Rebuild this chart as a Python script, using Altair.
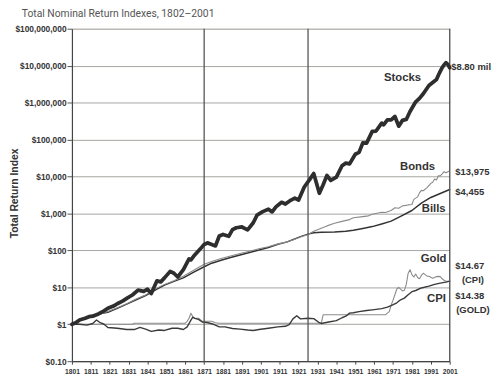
import altair as alt
import pandas as pd

# ---------------- data ----------------
stock_years = [1801, 1803, 1805, 1808, 1810, 1812, 1815, 1818, 1820, 1823, 1825, 1828, 1830, 1833,
               1836, 1839, 1841, 1843, 1846, 1848, 1850, 1853, 1855, 1857, 1860, 1863, 1864, 1866,
               1869, 1871, 1873, 1874, 1877, 1879, 1881, 1884, 1886, 1888, 1891, 1894, 1897, 1899,
               1902, 1905, 1907, 1909, 1912, 1914, 1917, 1919, 1921, 1924, 1927, 1929, 1932, 1934,
               1936, 1938, 1941, 1944, 1946, 1948, 1951, 1953, 1955, 1957, 1960, 1962, 1965, 1966,
               1968, 1970, 1972, 1974, 1976, 1978, 1980, 1983, 1985, 1987, 1990, 1992, 1994, 1995,
               1996, 1997, 1998, 1999, 2000, 2001]
stock_values = [1.0, 1.1, 1.3, 1.45, 1.6, 1.65, 1.9, 2.3, 2.7, 3.1, 3.6, 4.3, 5.0, 6.2,
                8.4, 7.8, 8.9, 6.8, 15, 14, 18, 27, 24, 19, 30, 59, 55, 75,
                110, 145, 160, 150, 132, 245, 270, 240, 363, 410, 430, 360, 560, 900,
                1120, 1300, 1100, 1500, 2000, 1800, 2300, 2600, 2300, 5200, 8500, 12000, 3500, 6000,
                10700, 7800, 9600, 19500, 23000, 22000, 40000, 45000, 81000, 80000, 166000, 170000, 278000, 250000,
                340000, 340000, 420000, 230000, 330000, 350000, 575000, 1050000, 1300000, 1740000, 2900000, 3500000, 4200000, 5500000,
                7000000, 8800000, 10500000, 12000000, 10800000, 8800000]

bond_years = [1801, 1805, 1810, 1815, 1820, 1825, 1830, 1835, 1840, 1846, 1850, 1855, 1860, 1865,
              1871, 1875, 1880, 1885, 1890, 1895, 1900, 1905, 1910, 1915, 1918, 1922, 1926, 1929,
              1932, 1936, 1940, 1944, 1948, 1950, 1955, 1958, 1960, 1965, 1967, 1970, 1972, 1974,
              1976, 1979, 1981, 1982, 1984, 1985, 1986, 1987, 1989, 1991, 1992, 1993, 1994, 1995,
              1996, 1997, 1998, 1999, 2000, 2001]
bond_values = [1.0, 1.25, 1.55, 1.8, 2.2, 2.8, 3.6, 4.8, 6.2, 9.5, 12, 15, 20, 28,
               42, 50, 60, 70, 82, 95, 110, 125, 150, 170, 190, 230, 270, 330,
               380, 460, 540, 610, 680, 760, 820, 860, 950, 1080, 1060, 1200, 1420, 1380,
               1600, 1700, 1750, 2400, 2800, 3600, 4200, 4100, 5000, 6500, 7000, 8500, 8000, 10500,
               10400, 11800, 13500, 12600, 13400, 13975]

bill_years = [1801, 1805, 1810, 1815, 1820, 1825, 1830, 1835, 1840, 1846, 1850, 1855, 1860, 1865,
              1871, 1875, 1880, 1885, 1890, 1895, 1900, 1905, 1910, 1915, 1918, 1922, 1926, 1929,
              1933, 1940, 1946, 1950, 1955, 1960, 1965, 1970, 1975, 1981, 1986, 1991, 1996, 2001]
bill_values = [1.0, 1.3, 1.6, 1.9, 2.1, 2.7, 3.5, 4.6, 6.0, 9.0, 11.5, 14.5, 18, 25,
               36, 45, 54, 64, 75, 88, 102, 120, 145, 170, 195, 235, 275, 300,
               310, 315, 330, 350, 390, 440, 520, 620, 830, 1200, 1900, 2700, 3450, 4455]

gold_years = [1801, 1833, 1834, 1861, 1862, 1863, 1864, 1865, 1866, 1868, 1870, 1872, 1875, 1877,
              1879, 1933, 1934, 1967, 1968, 1969, 1970, 1971, 1973, 1974, 1976, 1977, 1978, 1979,
              1980, 1981, 1982, 1983, 1984, 1985, 1986, 1987, 1988, 1989, 1990, 1991, 1992, 1993,
              1994, 1995, 1996, 1997, 1998, 1999, 2000, 2001]
gold_values = [1.0, 1.0, 1.066, 1.066, 1.2, 1.45, 2.0, 1.6, 1.45, 1.45, 1.2, 1.2, 1.2, 1.1,
               1.066, 1.066, 1.8, 1.8, 2.0, 2.2, 3.3, 4.5, 9.0, 10, 8.0, 8.3, 12, 24,
               30, 22, 19, 23, 18.5, 17, 21, 24, 22, 20, 20, 18.7, 17.6, 18.5,
               19.5, 19.8, 19.5, 17, 15.5, 14.6, 14.5, 14.38]

cpi_years = [1801, 1805, 1809, 1812, 1814, 1816, 1818, 1820, 1825, 1830, 1834, 1837, 1840, 1843,
             1847, 1850, 1854, 1857, 1860, 1862, 1864, 1865, 1866, 1868, 1870, 1873, 1876, 1879,
             1882, 1886, 1890, 1894, 1897, 1900, 1905, 1910, 1914, 1916, 1918, 1920, 1922, 1926,
             1929, 1932, 1933, 1937, 1941, 1944, 1946, 1948, 1950, 1953, 1957, 1960, 1965, 1968,
             1970, 1973, 1975, 1977, 1979, 1981, 1983, 1986, 1990, 1993, 1996, 1999, 2001]
cpi_values = [1.0, 1.0, 0.95, 1.05, 1.3, 1.1, 1.0, 0.82, 0.78, 0.72, 0.72, 0.82, 0.74, 0.64,
              0.7, 0.68, 0.78, 0.78, 0.72, 0.85, 1.3, 1.55, 1.45, 1.35, 1.15, 1.1, 1.0, 0.85,
              0.85, 0.77, 0.74, 0.7, 0.68, 0.72, 0.78, 0.85, 0.88, 0.98, 1.4, 1.7, 1.4, 1.45,
              1.42, 1.1, 1.05, 1.15, 1.25, 1.5, 1.65, 2.0, 2.05, 2.2, 2.35, 2.45, 2.65, 2.9,
              3.2, 3.8, 4.6, 5.1, 6.3, 7.6, 8.2, 9.6, 10.8, 12.0, 13.0, 13.8, 14.67]

era_lines = [1871, 1926, 2001]
x_ticks = [1801, 1811, 1821, 1831, 1841, 1851, 1861, 1871, 1881, 1891, 1901, 1911, 1921,
           1931, 1941, 1951, 1961, 1971, 1981, 1991, 2001]
y_ticks = [0.1, 1, 10, 100, 1000, 10000, 100000, 1000000, 10000000, 100000000]

series_labels = ["Stocks", "Bonds", "Bills", "Gold", "CPI"]
series_label_years = [1976, 1984, 1992.5, 1992.5, 1994]
series_label_values = [4.6e6, 18400, 1300, 58, 4.7]

end_labels = ["$8.80 mil", "$13,975", "$4,455", "$14.67", "$14.38"]
end_label_years = [2001.8, 2004, 2004, 2004, 2004]
end_label_values = [8.9e6, 12800, 3750, 38, 5.7]

paren_labels = ["(CPI)", "(GOLD)"]
paren_label_years = [2013.3, 2013.3]
paren_label_values = [15.5, 2.4]

# ---------------- build tables ----------------
def frame(name, years, values):
    return pd.DataFrame({"year": years, "value": values, "series": name})

lines_df = pd.concat([
    frame("Stocks", stock_years, stock_values),
    frame("Bonds", bond_years, bond_values),
    frame("Bills", bill_years, bill_values),
    frame("Gold", gold_years, gold_values),
    frame("CPI", cpi_years, cpi_values),
], ignore_index=True)

FONT = "Liberation Sans"
INK = "#333333"

x_enc = alt.X("year:Q",
              scale=alt.Scale(domain=[1801, 2001], nice=False, zero=False),
              axis=alt.Axis(values=x_ticks, format="d", title=None, grid=False,
                            labelFont=FONT, labelFontSize=6.8, labelFontWeight="bold",
                            labelColor=INK, tickSize=3, tickColor="#444", domainColor="#444",
                            domainWidth=1.2, labelPadding=4, labelOverlap=False,
                            labelFlush=False, labelBound=False))
y_enc = alt.Y("value:Q",
              scale=alt.Scale(type="log", domain=[0.1, 1e8], nice=False),
              axis=alt.Axis(values=y_ticks, title="Total Return Index",
                            labelExpr="datum.value < 1 ? '$0.10' : '$' + format(datum.value, ',')",
                            labelFont=FONT, labelFontSize=8.5, labelFontWeight="bold",
                            labelColor=INK, tickSize=5, tickColor="#555", domainColor="#444",
                            domainWidth=1.2, labelPadding=1, grid=True, gridColor="#9c9a97",
                            gridWidth=0.9, titleFont=FONT, titleFontSize=10.5,
                            titleFontWeight="bold", titleColor=INK, titleX=-58, titleY=167,
                            titleAlign="center", titleBaseline="middle", titleAngle=-90,
                            labelOverlap=False))

base = alt.Chart(lines_df)

def series_line(name, color, width):
    return base.transform_filter(alt.datum.series == name).mark_line(
        color=color, strokeWidth=width, strokeJoin="round", strokeCap="round"
    ).encode(x=x_enc, y=y_enc)

rules = alt.Chart(pd.DataFrame({"year": era_lines})).mark_rule(
    color="#555555", strokeWidth=1.3).encode(x=x_enc)

lbl_df = pd.DataFrame({"text": series_labels, "year": series_label_years, "value": series_label_values})
end_df = pd.DataFrame({"text": end_labels, "year": end_label_years, "value": end_label_values})
par_df = pd.DataFrame({"text": paren_labels, "year": paren_label_years, "value": paren_label_values})

series_text = alt.Chart(lbl_df).mark_text(
    font=FONT, fontSize=11.5, fontWeight="bold", color=INK, align="center", baseline="middle"
).encode(x=x_enc, y=y_enc, text="text:N")
end_text = alt.Chart(end_df).mark_text(
    font=FONT, fontSize=9.6, fontWeight="bold", color=INK, align="left", baseline="middle"
).encode(x=x_enc, y=y_enc, text="text:N")
par_text = alt.Chart(par_df).mark_text(
    font=FONT, fontSize=9.6, fontWeight="bold", color=INK, align="center", baseline="middle"
).encode(x=x_enc, y=y_enc, text="text:N")

chart = alt.layer(
    series_line("Gold", "#8a8a8a", 1.1),
    series_line("CPI", "#3a3a3a", 1.4),
    series_line("Bills", "#333333", 1.5),
    series_line("Bonds", "#8a8a8a", 1.1),
    rules,
    series_line("Stocks", "#2e2e2e", 3.8),
    series_text, end_text, par_text,
).properties(
    width=384, height=338,
    autosize=alt.AutoSizeParams(type="none"),
    padding={"left": 65, "top": 18, "right": 43, "bottom": 12},
    title=alt.TitleParams("Total Nominal Return Indexes, 1802–2001", anchor="start",
                          frame="group", dx=-51, offset=5,
                          font="Roboto", fontSize=10.5, fontWeight="normal",
                          color="#555555"),
).configure_view(strokeWidth=0).configure(background="white")

chart.save("out.html", embed_options={"renderer": "svg", "actions": False})
